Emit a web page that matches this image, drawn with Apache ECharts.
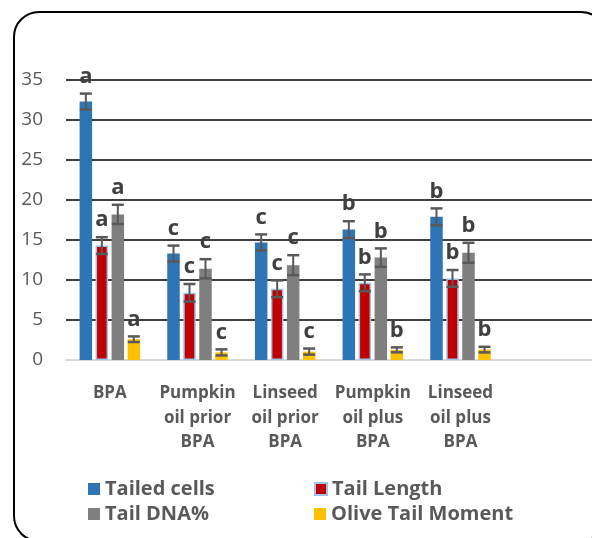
<!DOCTYPE html>
<html>
<head>
<meta charset="utf-8">
<script src="https://cdn.jsdelivr.net/npm/echarts@6/dist/echarts.min.js"></script>
<style>
  html, body { margin: 0; padding: 0; background: #fff; }
  #main { width: 592px; height: 538px; }
</style>
</head>
<body>
<div id="main"></div>
<script>
var categories = ['BPA', 'Pumpkin\noil prior\nBPA', 'Linseed\noil prior\nBPA', 'Pumpkin\noil plus\nBPA', 'Linseed\noil plus\nBPA', ''];
var yTicks = [0, 5, 10, 15, 20, 25, 30, 35];

var tailedCells = [32.3, 13.3, 14.7, 16.3, 17.9];
var tailedCellsErr = [1.0, 1.0, 1.0, 1.05, 1.05];
var tailedCellsSig = ['a', 'c', 'c', 'b', 'b'];

var tailLength = [14.3, 8.4, 8.9, 9.65, 10.2];
var tailLengthErr = [1.05, 1.1, 1.05, 1.05, 1.05];
var tailLengthSig = ['a', 'c', 'c', 'b', 'b'];

var tailDNA = [18.2, 11.4, 11.85, 12.8, 13.4];
var tailDNAErr = [1.2, 1.2, 1.25, 1.15, 1.25];
var tailDNASig = ['a', 'c', 'c', 'b', 'b'];

var oliveMoment = [2.6, 0.95, 1.05, 1.27, 1.3];
var oliveMomentErr = [0.35, 0.38, 0.38, 0.31, 0.35];
var oliveMomentSig = ['a', 'c', 'c', 'b', 'b'];

var BAR_W = 12.5;
var BAR_STEP = 16;
var FONT = '"Open Sans", "Liberation Sans", sans-serif';

var chart = echarts.init(document.getElementById('main'));

function barSeries(name, values, color, border) {
  return {
    name: name,
    type: 'bar',
    data: values,
    barWidth: BAR_W,
    barGap: ((BAR_STEP - BAR_W) / BAR_W * 100) + '%',
    itemStyle: border ? { color: color, borderColor: '#9DC3E6', borderWidth: 1.5 } : { color: color }
  };
}

function errSeries(idx, means, errs, letters) {
  return {
    type: 'custom',
    name: 'err' + idx,
    z: 10,
    data: means.map(function (m, i) { return [i, m, errs[i]]; }),
    renderItem: function (params, api) {
      var x = api.coord([api.value(0), 0])[0] + (idx - 1.5) * BAR_STEP;
      var yHi = api.coord([api.value(0), api.value(1) + api.value(2)])[1];
      var yLo = api.coord([api.value(0), api.value(1) - api.value(2)])[1];
      var h = 6;
      var st = { stroke: '#595959', lineWidth: 2 };
      return {
        type: 'group',
        children: [
          { type: 'line', shape: { x1: x, y1: yHi, x2: x, y2: yLo }, style: st },
          { type: 'line', shape: { x1: x - h, y1: yHi, x2: x + h, y2: yHi }, style: { stroke: '#595959', lineWidth: 2.5 } },
          { type: 'line', shape: { x1: x - h, y1: yLo, x2: x + h, y2: yLo }, style: { stroke: '#595959', lineWidth: 2.5 } },
          {
            type: 'text',
            style: {
              text: letters[params.dataIndex],
              x: x, y: yHi - 6,
              align: 'center', verticalAlign: 'bottom',
              font: 'bold 22px ' + FONT,
              fill: '#404040'
            }
          }
        ]
      };
    }
  };
}

var option = {
  animation: false,
  graphic: [{
    type: 'rect',
    z: -10,
    shape: { x: 14, y: 12, width: 592, height: 529, r: 25 },
    style: { fill: 'none', stroke: '#000', lineWidth: 2 }
  }],
  grid: { left: 66, right: 0, top: 80, bottom: 178 },
  legend: {
    data: ['Tailed cells', 'Tail Length', 'Tail DNA%', 'Olive Tail Moment'],
    left: 88,
    top: 479,
    width: 460,
    padding: 0,
    itemWidth: 12,
    itemHeight: 12,
    itemGap: 5,
    icon: 'rect',
    textStyle: { fontFamily: FONT, fontSize: 20, fontWeight: 'bold', color: '#595959', width: 204, lineHeight: 20 }
  },
  xAxis: {
    type: 'category',
    data: categories,
    axisTick: { show: false },
    axisLine: { lineStyle: { color: '#D9D9D9', width: 2 } },
    axisLabel: { interval: 0, margin: 21, fontFamily: FONT, fontSize: 17, fontWeight: 'bold', color: '#595959', lineHeight: 24.5 }
  },
  yAxis: {
    type: 'value',
    min: yTicks[0],
    max: yTicks[yTicks.length - 1],
    interval: 5,
    axisLine: { show: false },
    axisTick: { show: false },
    axisLabel: { margin: 23, fontFamily: FONT, fontSize: 19, color: '#595959' },
    splitLine: { lineStyle: { color: '#000', width: 1.5 } }
  },
  series: [
    barSeries('Tailed cells', tailedCells, '#2E75B6'),
    barSeries('Tail Length', tailLength, '#C00000', true),
    barSeries('Tail DNA%', tailDNA, '#7F7F7F'),
    barSeries('Olive Tail Moment', oliveMoment, '#FFC000'),
    errSeries(0, tailedCells, tailedCellsErr, tailedCellsSig),
    errSeries(1, tailLength, tailLengthErr, tailLengthSig),
    errSeries(2, tailDNA, tailDNAErr, tailDNASig),
    errSeries(3, oliveMoment, oliveMomentErr, oliveMomentSig)
  ]
};

chart.setOption(option);
window.addEventListener('resize', function () { chart.resize(); });
</script>
</body>
</html>
